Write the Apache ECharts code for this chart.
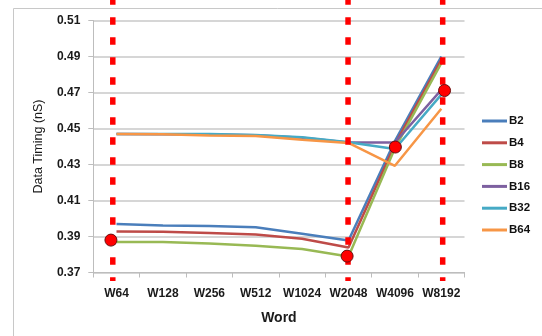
<!DOCTYPE html>
<html>
<head>
<meta charset="utf-8">
<script src="https://cdn.jsdelivr.net/npm/echarts@6/dist/echarts.min.js"></script>
<style>
  html, body { margin: 0; padding: 0; background: #ffffff; }
  #chart { width: 542px; height: 336px; }
</style>
</head>
<body>
<div id="chart"></div>
<script>
// Word sizes on the x axis
const categories = ['W64', 'W128', 'W256', 'W512', 'W1024', 'W2048', 'W4096', 'W8192'];

// Data timing (nS) per bank configuration
const seriesNames = ['B2', 'B4', 'B8', 'B16', 'B32', 'B64'];
const b2  = [0.3969, 0.3961, 0.3958, 0.3952, 0.3915, 0.3878, 0.4430, 0.4900];
const b4  = [0.3928, 0.3926, 0.3919, 0.3911, 0.3887, 0.3839, 0.4410, 0.4882];
const b8  = [0.3870, 0.3869, 0.3861, 0.3848, 0.3830, 0.3789, 0.4390, 0.4863];
const b16 = [0.4469, 0.4468, 0.4466, 0.4462, 0.4448, 0.4422, 0.4422, 0.4715];
const b32 = [0.4469, 0.4469, 0.4469, 0.4464, 0.4452, 0.4424, 0.4386, 0.4688];
const b64 = [0.4469, 0.4468, 0.4461, 0.4458, 0.4438, 0.4420, 0.4293, 0.4610];
const seriesValues = [b2, b4, b8, b16, b32, b64];
const seriesColors = ['#4a7ebb', '#be4b48', '#98b954', '#7d60a0', '#46aac5', '#f79646'];

// Y axis ticks
const yMin = 0.37, yMax = 0.51, yStep = 0.02;

// Highlighted points: position along the word axis (in category units) and timing
const markerPos = [0.38, 5.47, 6.51, 7.57];
const markerVal = [0.3880, 0.3791, 0.4397, 0.4711];

// Vertical dashed guides, position along the word axis (in category units)
const guidePos = [0.42, 5.49, 7.53];

const plotLeft = 93.3, plotWidth = 371.2, plotTop = 20.5, plotHeight = 252;
const labelColor = '#1a1a1a';
const fontFam = '"Liberation Sans", Arial, sans-serif';

const chart = echarts.init(document.getElementById('chart'), null, { renderer: 'canvas' });

const lineSeries = seriesNames.map((name, i) => ({
  name: name,
  type: 'line',
  xAxisIndex: 0,
  yAxisIndex: 0,
  data: seriesValues[i],
  symbol: 'none',
  smooth: false,
  z: 2,
  lineStyle: { color: seriesColors[i], width: 2.5 },
  itemStyle: { color: seriesColors[i] }
}));

const guideSeries = guidePos.map((p, i) => ({
  name: 'guide' + i,
  type: 'line',
  xAxisIndex: 2,
  yAxisIndex: 1,
  data: [[p, 1], [p, 0]],
  symbol: 'none',
  silent: true,
  z: 5,
  lineStyle: { color: '#ff0000', width: 5.5, type: [7.5, 12.5], dashOffset: 2.8, cap: 'butt' }
}));

const markerSeries = {
  name: 'markers',
  type: 'scatter',
  xAxisIndex: 1,
  yAxisIndex: 0,
  data: markerPos.map((p, i) => [p, markerVal[i]]),
  symbol: 'circle',
  symbolSize: 12,
  silent: true,
  z: 8,
  itemStyle: { color: '#ff0000', borderColor: '#6a0d0d', borderWidth: 1, opacity: 1 }
};

const option = {
  animation: false,
  backgroundColor: '#ffffff',
  textStyle: { fontFamily: fontFam },
  graphic: [
    {
      type: 'polyline',
      silent: true,
      z: 0,
      shape: { points: [[13.5, 336], [13.5, 8.5], [542, 8.5]] },
      style: { stroke: '#c8c8c8', lineWidth: 1, fill: null }
    }
  ],
  grid: [
    { left: plotLeft, top: plotTop, width: plotWidth, height: plotHeight, outerBoundsMode: 'none', containLabel: false },
    { left: plotLeft, top: 0, width: plotWidth, height: 281, outerBoundsMode: 'none', containLabel: false }
  ],
  legend: {
    data: seriesNames,
    orient: 'vertical',
    left: 477,
    top: 110,
    icon: 'rect',
    itemWidth: 25,
    itemHeight: 3,
    itemGap: 9.8,
    textStyle: { fontFamily: fontFam, fontSize: 11.5, fontWeight: 'bold', color: '#111', padding: [0, 0, 0, -3] }
  },
  xAxis: [
    {
      type: 'category',
      gridIndex: 0,
      data: categories,
      boundaryGap: true,
      name: 'Word',
      nameLocation: 'middle',
      nameGap: 39,
      nameTextStyle: { fontFamily: fontFam, fontSize: 14, fontWeight: 'bold', color: labelColor },
      axisLine: { show: true, lineStyle: { color: '#bdbdbd', width: 1 } },
      axisTick: { show: true, inside: false, length: 5, interval: 0, alignWithLabel: false, lineStyle: { color: '#bdbdbd' } },
      axisLabel: { interval: 0, margin: 15, fontFamily: fontFam, fontSize: 12, fontWeight: 'bold', color: labelColor },
      splitLine: { show: false }
    },
    { type: 'value', gridIndex: 0, min: 0, max: 8, show: false },
    { type: 'value', gridIndex: 1, min: 0, max: 8, show: false }
  ],
  yAxis: [
    {
      type: 'value',
      gridIndex: 0,
      min: yMin,
      max: yMax,
      interval: yStep,
      name: 'Data Timing (nS)',
      nameLocation: 'middle',
      nameGap: 48,
      nameRotate: 90,
      nameTextStyle: { fontFamily: fontFam, fontSize: 12.5, color: labelColor },
      axisLine: { show: true, lineStyle: { color: '#bdbdbd', width: 1 } },
      axisTick: { show: true, inside: false, length: 5, lineStyle: { color: '#bdbdbd' } },
      axisLabel: {
        margin: 13,
        fontFamily: fontFam, fontSize: 12, fontWeight: 'bold', color: labelColor,
        formatter: v => v.toFixed(2)
      },
      splitLine: { show: true, lineStyle: { color: '#c8c8c8', width: 1.5 } }
    },
    { type: 'value', gridIndex: 1, min: 0, max: 1, show: false }
  ],
  series: lineSeries.concat(guideSeries, [markerSeries])
};

chart.setOption(option);
</script>
</body>
</html>
